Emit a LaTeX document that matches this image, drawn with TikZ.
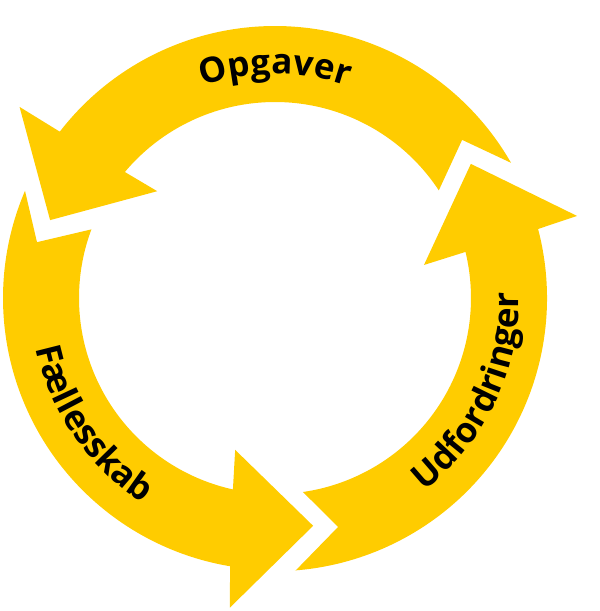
\documentclass[tikz,border=0pt]{standalone}
\usepackage{fontspec}
\setmainfont{Open Sans}
\usetikzlibrary{decorations.text}
\definecolor{arrowyellow}{HTML}{FFCC00}
\begin{document}
\begin{tikzpicture}[x=1pt,y=1pt,
  cyclearrow/.style={fill=arrowyellow, draw=none},
  arclabel/.style={decorate, decoration={text along path, text align=center,
    text={|\fontsize{35}{35}\selectfont\bfseries|#1}}}]
\useasboundingbox (0,0) rectangle (600,611);
\begin{scope}[shift={(275,313)}]
% top arrow (Opgaver), runs counterclockwise from right to left
\fill[cyclearrow] (29.8:272) -- (40.2:245) -- (33.3:196)
  arc[start angle=33.3, end angle=140, radius=196]
  -- (137.8:159) -- (160.9:238) -- (143.2:319) -- (142.3:272)
  arc[start angle=142.3, end angle=29.8, radius=272] -- cycle;
% left arrow (Faellesskab)
\fill[cyclearrow] (156.8:272) -- (166.8:244.5) -- (159.5:196)
  arc[start angle=159.5, end angle=257.6, radius=196]
  -- (255.3:157) -- (279.5:231) -- (261.7:313) -- (260.5:272)
  arc[start angle=260.5, end angle=156.8, radius=272] -- cycle;
% right arrow (Udfordringer)
\fill[cyclearrow] (-85.6:273) -- (-74.6:237.5) -- (-81.8:196)
  arc[start angle=-81.8, end angle=13.6, radius=196]
  -- (12.5:152.6) -- (34.4:237.4) -- (15.2:313) -- (14.7:272)
  arc[start angle=14.7, end angle=-85.6, radius=273] -- cycle;
% labels
\path[arclabel={Opgaver}] (120:224) arc[start angle=120, end angle=60, radius=224];
\path[arclabel={Fællesskab}] (169.5:244) arc[start angle=169.5, end angle=259.5, radius=244];
\path[arclabel={Udfordringer}] (-75:244) arc[start angle=-75, end angle=24, radius=244];
\end{scope}
\end{tikzpicture}
\end{document}
